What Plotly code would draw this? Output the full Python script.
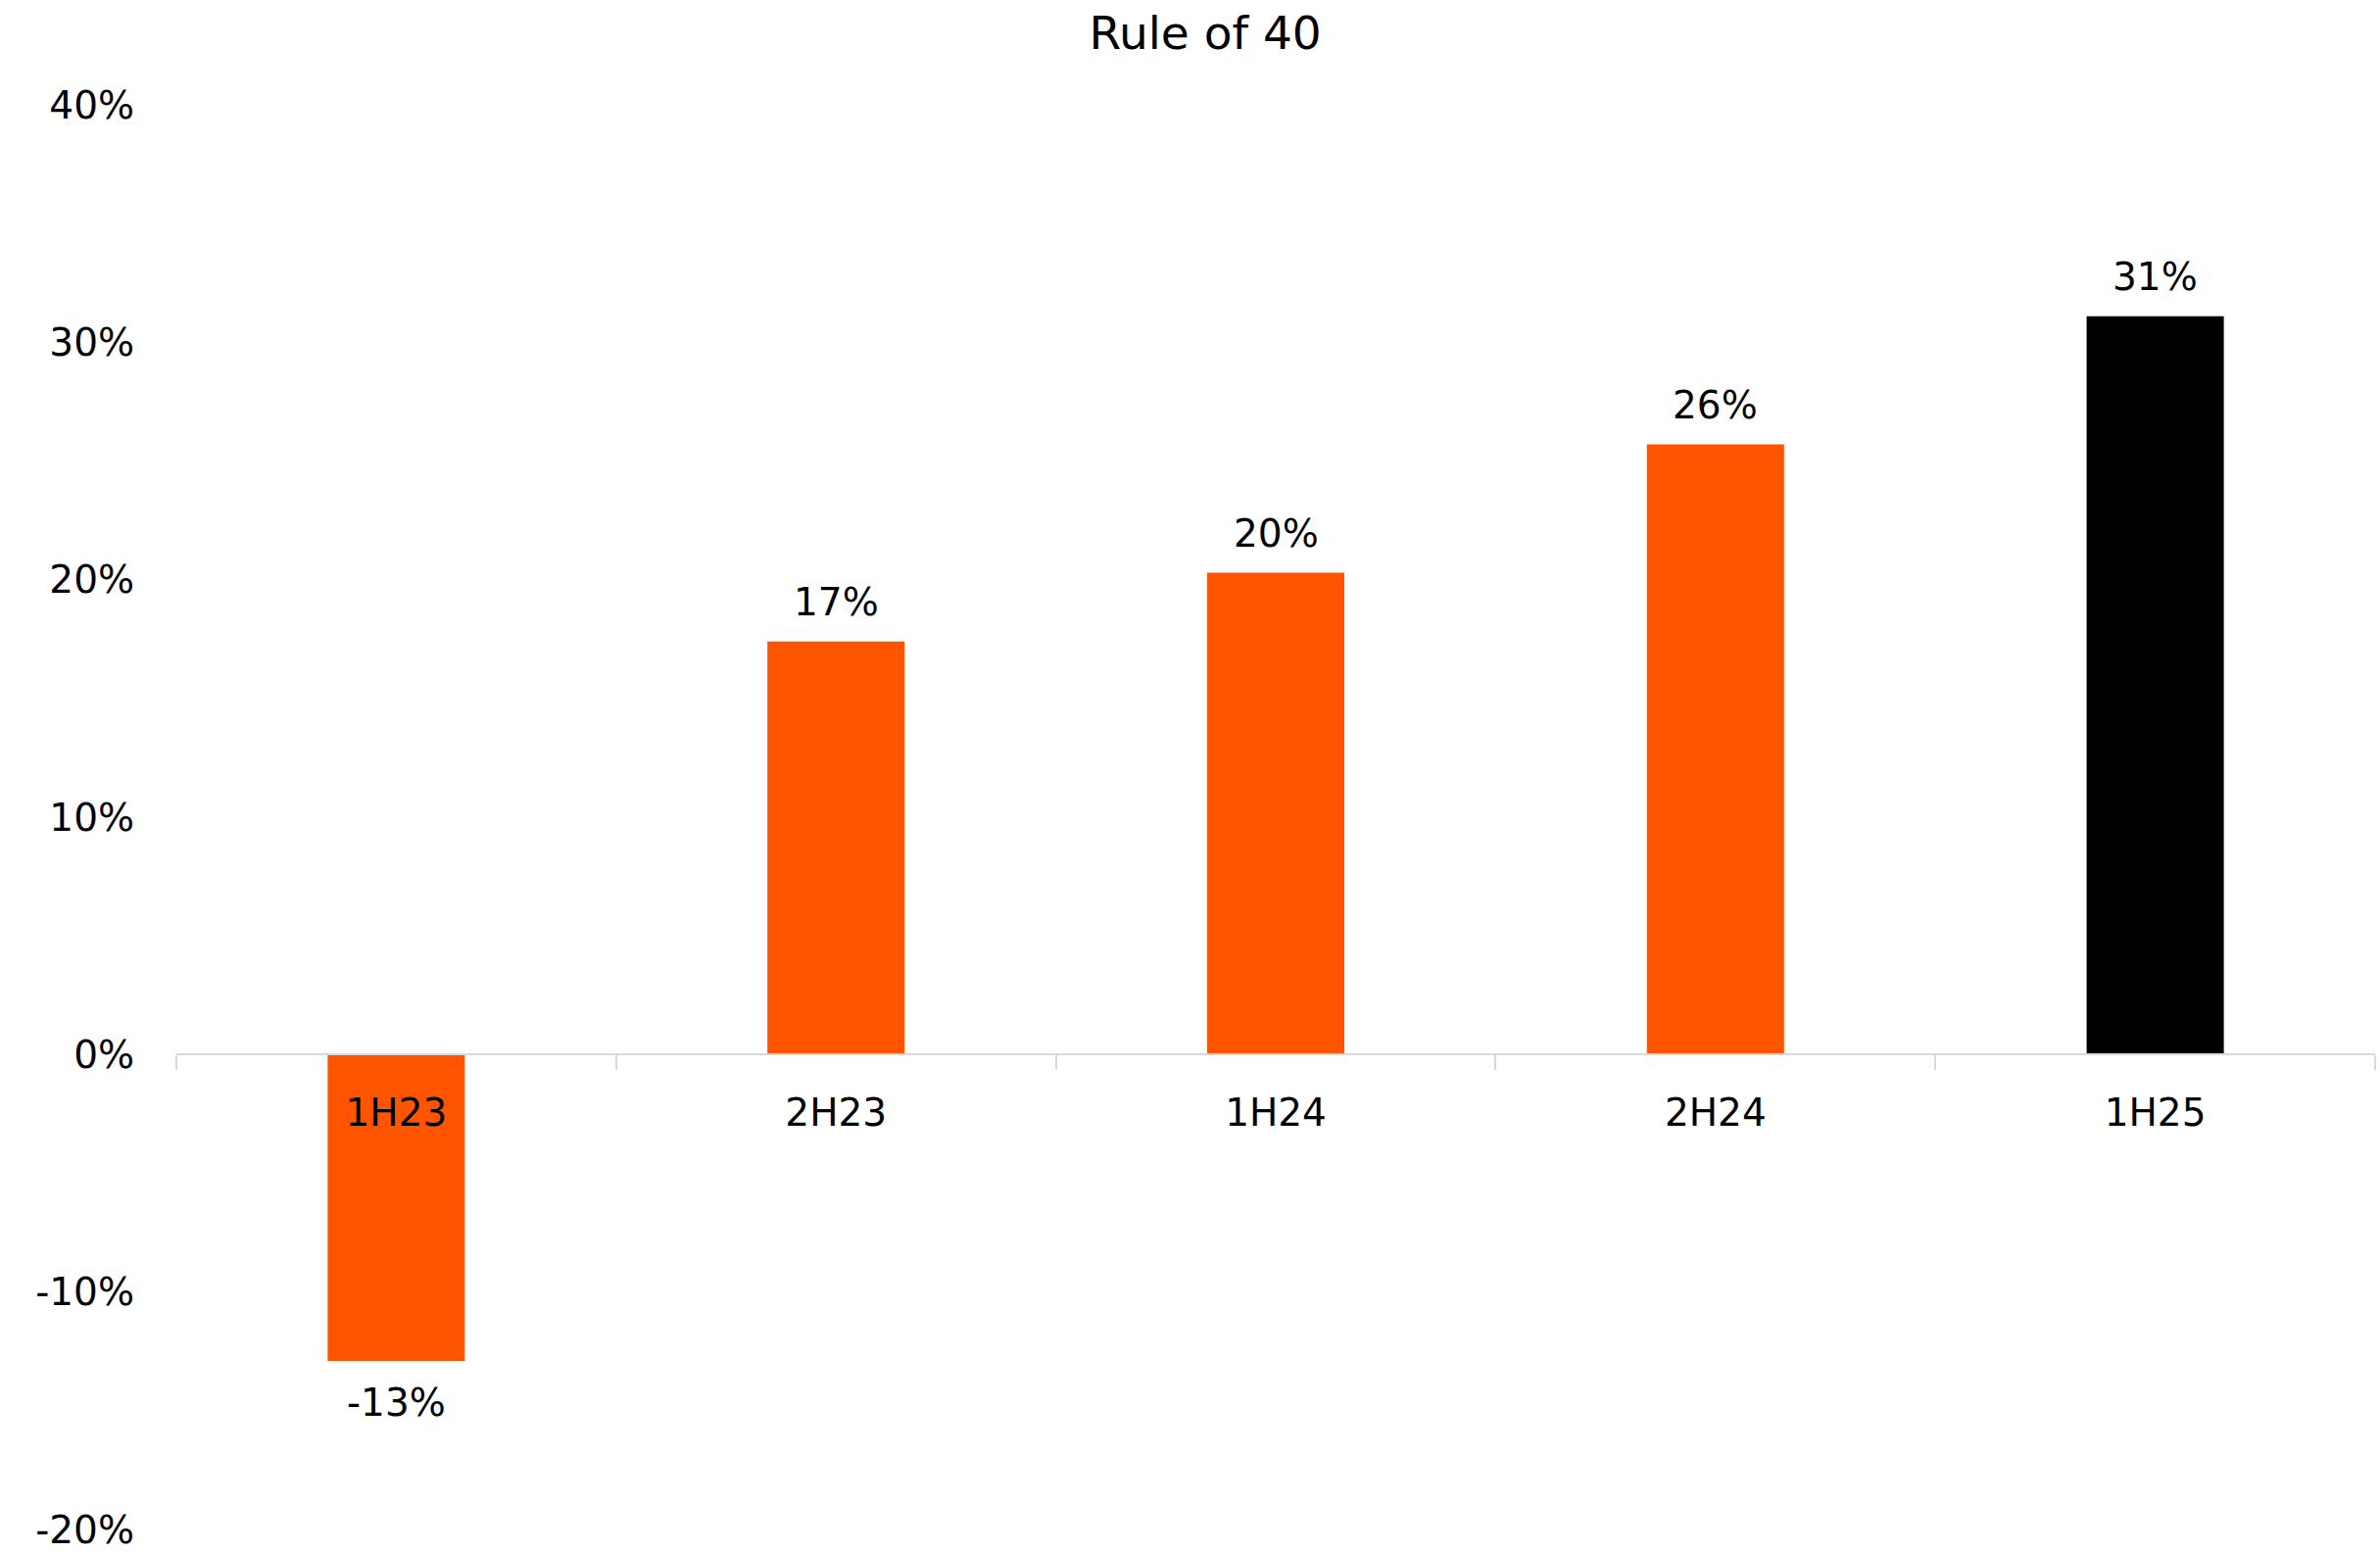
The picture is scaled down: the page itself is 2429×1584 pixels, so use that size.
import plotly.graph_objects as go

# Rule of 40 by half-year period (%)
periods = ["1H23", "2H23", "1H24", "2H24", "1H25"]
rule_of_40 = [-12.9, 17.4, 20.3, 25.7, 31.1]
bar_colors = ["#FF5500", "#FF5500", "#FF5500", "#FF5500", "#000000"]
y_ticks = [-20, -10, 0, 10, 20, 30, 40]

FONT = "DejaVu Sans"
FONT_SIZE = 39

# value axis: 40% sits 107 px from the top, -20% 18 px above the bottom edge
PX_PER_PCT = 24.32
Y_MIN = -20 - 18 / PX_PER_PCT

fig = go.Figure(
    go.Bar(
        x=periods,
        y=rule_of_40,
        marker=dict(color=bar_colors, line=dict(width=0)),
        hoverinfo="skip",
    )
)

# value labels above positive bars, below negative ones
for p, v in zip(periods, rule_of_40):
    fig.add_annotation(
        x=p, y=v,
        text=f"{v:.0f}%",
        showarrow=False,
        yanchor="middle",
        yshift=40 if v >= 0 else -42,
        font=dict(family=FONT, size=FONT_SIZE, color="black"),
    )

fig.update_layout(
    width=2429,
    height=1584,
    margin=dict(l=180, r=5, t=107, b=0),
    paper_bgcolor="white",
    plot_bgcolor="white",
    bargap=0.688,
    showlegend=False,
    font=dict(family=FONT, size=FONT_SIZE, color="black"),
    title=dict(
        text="Rule of 40",
        x=0.5064, xanchor="center",
        y=1 - 34 / 1584, yanchor="middle",
        font=dict(family=FONT, size=47, color="black"),
    ),
    yaxis=dict(
        range=[Y_MIN, 40],
        tickvals=y_ticks,
        ticktext=[f"{t}%" for t in y_ticks],
        showgrid=False,
        zeroline=False,
        showline=False,
        ticks="",
        ticklabelstandoff=42,
        ticklabeloverflow="allow",
        domain=[0, 1],
    ),
    xaxis=dict(
        type="category",
        anchor="free",
        position=(0 - Y_MIN) / (40 - Y_MIN),
        showline=True,
        linecolor="#D9D9D9",
        linewidth=2,
        ticks="outside",
        tickson="boundaries",
        ticklen=15,
        tickwidth=2,
        tickcolor="#D9D9D9",
        ticklabelstandoff=25,
        showgrid=False,
        zeroline=False,
        layer="above traces",
    ),
)

fig.write_html("out.html")
